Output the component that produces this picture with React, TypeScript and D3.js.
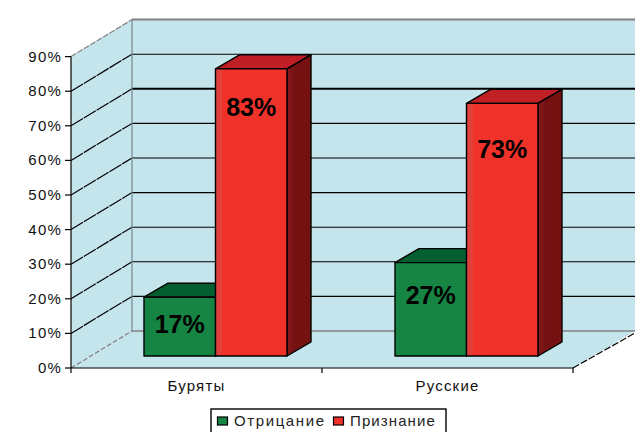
import React from "react";
import * as d3 from "d3";

const categories = ["Буряты", "Русские"];
const seriesNames = ["Отрицание", "Признание"];
const denial = [17, 27];
const recognition = [83, 73];
// where the percent captions sit, in axis units above the bar foot
const denialLabelAt = [9.2, 17.6];
const recognitionLabelAt = [71.7, 59.8];
const yTicks = [0, 10, 20, 30, 40, 50, 60, 70, 80, 90];

const W = 635;
const H = 432;
const font = "'Liberation Sans', Arial, sans-serif";

// chart box projection
const wallDx = 61;
const wallDy = -37;
const barDx = 20; // bar foot is pushed back into the floor
const barDy = -12;
const sideDx = 24;
const sideDy = -14;
const groupPad = 53;

const y = d3.scaleLinear().domain([0, 90]).range([368, 56.6]);
const x = d3.scaleBand<string>().domain(categories).range([71, 573]);
const inner = d3.scaleBand<string>().domain(seriesNames).range([0, 143]);

const poly = (pts: [number, number][]) => d3.line()(pts) + "Z";

type BarProps = { cx: number; w: number; value: number; front: string; top: string; side: string };

const Bar = ({ cx, w, value, front, top, side }: BarProps) => {
  const x0 = cx + barDx;
  const x1 = x0 + w;
  const yb = y(0) + barDy;
  const yt = y(value) + barDy;
  return (
    <g stroke="#000" strokeWidth={1.4} strokeLinejoin="round">
      <path d={poly([[x0, yt], [x0 + sideDx, yt + sideDy], [x1 + sideDx, yt + sideDy], [x1, yt]])} fill={top} />
      <path d={poly([[x1, yt], [x1 + sideDx, yt + sideDy], [x1 + sideDx, yb + sideDy], [x1, yb]])} fill={side} />
      <rect x={x0} y={yt} width={w} height={yb - yt} fill={front} />
    </g>
  );
};

export default function App() {
  const w = inner.bandwidth();
  const yBack = (v: number) => y(v) + wallDy;
  const left = x.range()[0];
  const right = x.range()[1];

  const labels = categories.flatMap((c, i) => [
    { key: c + "a", t: denial[i], at: denialLabelAt[i], cx: x(c)! + inner(seriesNames[0])! },
    { key: c + "b", t: recognition[i], at: recognitionLabelAt[i], cx: x(c)! + inner(seriesNames[1])! },
  ]);

  return (
    <svg width={W} height={H} viewBox={`0 0 ${W} ${H}`} style={{ position: "absolute", left: 0, top: 0, background: "#fff" }}>
      <defs>
        <linearGradient id="redFront" x1="0" x2="1" y1="0" y2="0">
          <stop offset="0" stopColor="#d8413f" />
          <stop offset="0.08" stopColor="#e2403a" />
          <stop offset="0.1" stopColor="#f0322a" />
          <stop offset="1" stopColor="#ee3129" />
        </linearGradient>
        <linearGradient id="redSide" x1="0" x2="1" y1="0" y2="0">
          <stop offset="0" stopColor="#8a1a1e" />
          <stop offset="0.3" stopColor="#741212" />
          <stop offset="1" stopColor="#761110" />
        </linearGradient>
      </defs>

      {/* walls and floor */}
      <rect x={left + wallDx} y={yBack(90)} width={W - left - wallDx} height={yBack(0) - yBack(90)} fill="#c5e5ed" />
      <path d={poly([[left, y(90)], [left + wallDx, yBack(90)], [left + wallDx, yBack(0)], [left, y(0)]])} fill="#c5e5ed" />
      <path d={poly([[left, y(0)], [left + wallDx, yBack(0)], [W, yBack(0)], [right, y(0)]])} fill="#c5e5ed" />

      {/* gridlines */}
      {yTicks.slice(1, -1).map((t) => (
        <g key={t} stroke="#000" fill="none">
          <line x1={left + wallDx} x2={W} y1={yBack(t)} y2={yBack(t)} strokeWidth={t === 70 ? 2 : 1.1} />
          <line x1={left} x2={left + wallDx} y1={y(t)} y2={yBack(t)} strokeWidth={1.2} strokeDasharray="14 1" />
        </g>
      ))}

      {/* wall edges */}
      <line x1={left + wallDx} x2={W} y1={yBack(90)} y2={yBack(90)} stroke="#808080" strokeWidth={2} />
      <line x1={left + wallDx} x2={W} y1={yBack(0)} y2={yBack(0)} stroke="#808080" strokeWidth={1.6} />
      <line x1={left + wallDx} x2={left + wallDx} y1={yBack(90)} y2={yBack(0)} stroke="#76868c" strokeWidth={1.2} />
      <line x1={left} x2={left + wallDx} y1={y(90)} y2={yBack(90)} stroke="#808080" strokeWidth={1.2} strokeDasharray="6 1.5" />
      <line x1={left} x2={left + wallDx} y1={y(0)} y2={yBack(0)} stroke="#808080" strokeWidth={1.2} strokeDasharray="5 2" />
      <line x1={right} x2={W} y1={y(0)} y2={yBack(0) + 2} stroke="#000" strokeWidth={1.2} strokeDasharray="7 2" />

      {/* bars */}
      {categories.map((c, i) => (
        <g key={c} transform={`translate(${groupPad},0)`}>
          <Bar cx={x(c)! + inner(seriesNames[0])!} w={w} value={denial[i]} front="#168443" top="#045f30" side="#045f30" />
          <Bar cx={x(c)! + inner(seriesNames[1])!} w={w} value={recognition[i]} front="url(#redFront)" top="#c01f26" side="url(#redSide)" />
        </g>
      ))}

      {/* percent captions */}
      {labels.map((d) => (
        <text
          key={d.key}
          x={d.cx + groupPad + barDx + w / 2}
          y={y(d.at) + barDy + 8.5}
          textAnchor="middle"
          fontFamily={font}
          fontSize={25}
          fontWeight={700}
          fill="#000"
        >
          {d.t}%
        </text>
      ))}

      {/* axes */}
      <line x1={left} x2={left} y1={y(90)} y2={y(0)} stroke="#000" strokeWidth={1.2} />
      <line x1={left} x2={right} y1={y(0)} y2={y(0)} stroke="#000" strokeWidth={1.2} />
      {yTicks.map((t) => (
        <g key={t}>
          <line x1={left - 6} x2={left} y1={y(t)} y2={y(t)} stroke="#000" strokeWidth={1.2} />
          <text x={62} y={y(t) + 5} textAnchor="end" fontFamily={font} fontSize={15} letterSpacing={1.2} fill="#111">
            {t}%
          </text>
        </g>
      ))}
      {[left, left + x.bandwidth(), right].map((tx) => (
        <line key={tx} x1={tx} x2={tx} y1={y(0)} y2={y(0) + 5} stroke="#000" strokeWidth={1.2} />
      ))}
      {categories.map((c) => (
        <text key={c} x={x(c)! + x.bandwidth() / 2} y={391} textAnchor="middle" fontFamily={font} fontSize={15} letterSpacing={1.2} fill="#111">
          {c}
        </text>
      ))}

      {/* legend */}
      <rect x={211} y={409} width={235} height={40} fill="#fff" stroke="#000" strokeWidth={1.4} />
      <rect x={217.5} y={417} width={10} height={8} fill="#168443" stroke="#000" strokeWidth={1.2} />
      <text x={234} y={426} fontFamily={font} fontSize={15} letterSpacing={1.6} fill="#222">{seriesNames[0]}</text>
      <rect x={333.5} y={417} width={10} height={8} fill="#ee3129" stroke="#000" strokeWidth={1.2} />
      <text x={350} y={426} fontFamily={font} fontSize={15} letterSpacing={1.1} fill="#222">{seriesNames[1]}</text>
    </svg>
  );
}
